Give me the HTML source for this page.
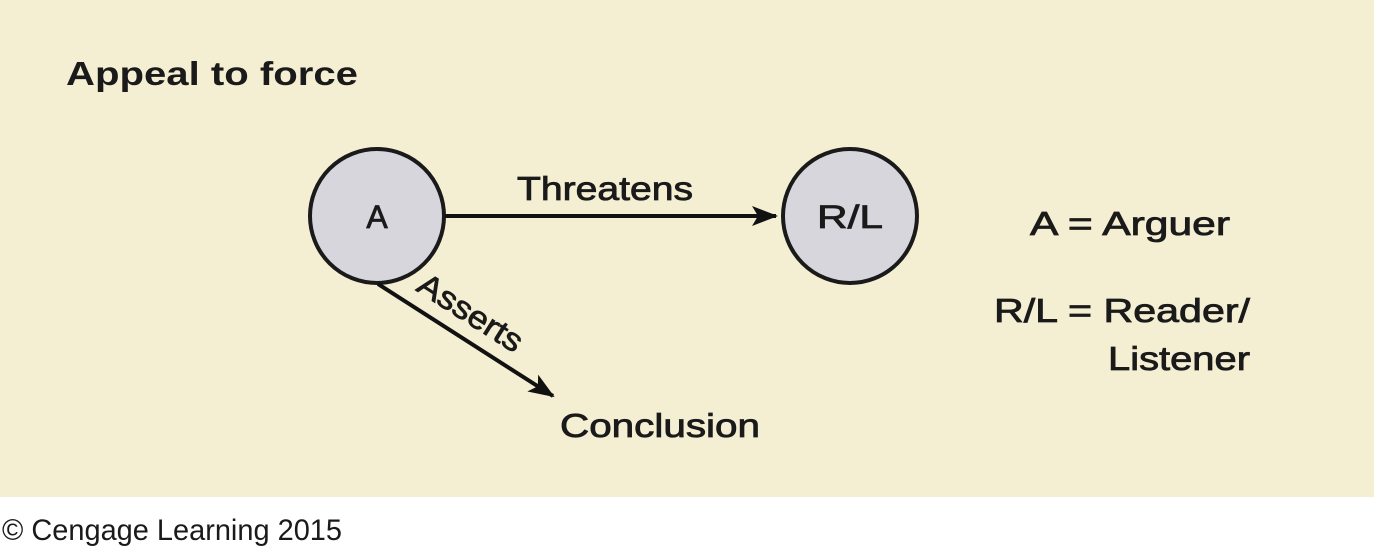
<!DOCTYPE html>
<html><head><meta charset="utf-8"><style>
body{margin:0;width:1374px;height:549px;background:#fff;overflow:hidden}
svg{display:block}
text{font-family:"Liberation Sans",sans-serif;fill:#1a1a1a}
.m{stroke:#1a1a1a;stroke-width:0.8}
</style></head><body>
<svg width="1374" height="549">
<defs>
<marker id="ah2" markerWidth="26" markerHeight="20" refX="24" refY="10" orient="auto" markerUnits="userSpaceOnUse"><path d="M0,0 L26,10 L0,20 L6,10 z" fill="#111"/></marker></defs>
<rect x="0" y="0" width="1374" height="497" fill="#f4eed2"/>
<text x="66" y="85" font-size="33" font-weight="bold" textLength="292" lengthAdjust="spacingAndGlyphs">Appeal to force</text>
<circle cx="377" cy="216" r="67" fill="#d6d6dc" stroke="#1a1a1a" stroke-width="4"/>
<text class="m" x="377" y="228" font-size="32" text-anchor="middle">A</text>
<circle cx="850" cy="216" r="67" fill="#d6d6dc" stroke="#1a1a1a" stroke-width="4"/>
<text class="m" x="850" y="228" font-size="32" text-anchor="middle" textLength="66" lengthAdjust="spacingAndGlyphs">R/L</text>
<line x1="445" y1="216" x2="776" y2="216" stroke="#111" stroke-width="4" marker-end="url(#ah2)"/>
<text class="m" x="517" y="200" font-size="33" textLength="176" lengthAdjust="spacingAndGlyphs">Threatens</text>
<line x1="378" y1="284" x2="553" y2="396" stroke="#111" stroke-width="4" marker-end="url(#ah2)"/>
<text class="m" x="0" y="0" font-size="32" textLength="118" lengthAdjust="spacingAndGlyphs" transform="translate(415,290) rotate(32.5)">Asserts</text>
<text class="m" x="560" y="437" font-size="33" textLength="200" lengthAdjust="spacingAndGlyphs">Conclusion</text>
<text class="m" x="1030" y="235" font-size="33" textLength="200" lengthAdjust="spacingAndGlyphs">A = Arguer</text>
<text class="m" x="994" y="322" font-size="33" textLength="256" lengthAdjust="spacingAndGlyphs">R/L = Reader/</text>
<text class="m" x="1108" y="370" font-size="33" textLength="142" lengthAdjust="spacingAndGlyphs">Listener</text>
<text x="2" y="540" font-size="30" fill="#444" textLength="340" lengthAdjust="spacingAndGlyphs">© Cengage Learning 2015</text>
</svg>
</body></html>
